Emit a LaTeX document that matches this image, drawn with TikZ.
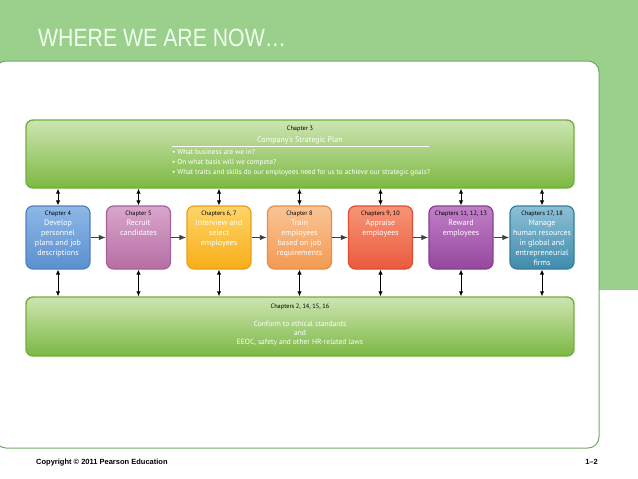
\documentclass[tikz,border=0pt]{standalone}
\usepackage{fontspec}
\setmainfont{PT Sans}
\newfontfamily\arialf{Liberation Sans}
\usetikzlibrary{arrows.meta}
\definecolor{hdrgreen}{HTML}{9BCF8C}
\definecolor{hdrline}{HTML}{6FAA66}
\definecolor{bigtop}{HTML}{CDE5B2}
\definecolor{bigbot}{HTML}{7CB842}
\definecolor{bigedge}{HTML}{72AE3C}
\definecolor{c1t}{HTML}{8DB8E6}\definecolor{c1b}{HTML}{5B8FCF}\definecolor{c1e}{HTML}{4F82C2}
\definecolor{c2t}{HTML}{D9A6CC}\definecolor{c2b}{HTML}{B56EA3}\definecolor{c2e}{HTML}{A9609A}
\definecolor{c3t}{HTML}{FFD46A}\definecolor{c3b}{HTML}{F7AE17}\definecolor{c3e}{HTML}{EBA111}
\definecolor{c4t}{HTML}{FAC496}\definecolor{c4b}{HTML}{F39A52}\definecolor{c4e}{HTML}{E88E46}
\definecolor{c5t}{HTML}{F79577}\definecolor{c5b}{HTML}{EB5A3C}\definecolor{c5e}{HTML}{DD4E32}
\definecolor{c6t}{HTML}{C07FC6}\definecolor{c6b}{HTML}{96479F}\definecolor{c6e}{HTML}{8A3E94}
\definecolor{c7t}{HTML}{8CC0D6}\definecolor{c7b}{HTML}{3F8BAB}\definecolor{c7e}{HTML}{367E9C}
\tikzset{
  bigbox/.style={draw=bigedge, line width=1.4pt, rounded corners=7pt, top color=bigtop, bottom color=bigbot, minimum width=548pt, minimum height=68pt, inner sep=0pt},
  chbox/.style={line width=1.2pt, rounded corners=7pt, minimum width=64pt, minimum height=63pt, inner sep=0pt},
  boxtext/.style={anchor=north, align=center, text=white, inner sep=0pt, font=\fontsize{8}{10}\selectfont},
  chap/.style={text=black, font=\fontsize{6.3}{8}\selectfont},
  dblarrow/.style={{Latex[length=5pt,width=4.5pt]}-{Latex[length=5pt,width=4.5pt]}, line width=1pt, black},
  flowarrow/.style={-{Latex[length=7pt,width=5.5pt]}, line width=1.1pt, black!75},
}
\begin{document}
\begin{tikzpicture}[x=1pt,y=-1pt]
\useasboundingbox (0,0) rectangle (638,479);
\clip (0,0) rectangle (638,479);
% frame
\fill[hdrgreen] (0,0) rectangle (638,290);
\filldraw[fill=white, draw=hdrline, line width=1pt, rounded corners=11pt] (-5,61) -- (599,61) -- (599,448) -- (-5,448) -- cycle;
\node[anchor=base west, text=white!94!green, font=\arialf\fontsize{25}{25}\selectfont, xscale=0.85, transform shape, inner sep=0pt] (title) at (38,46) {WHERE WE ARE NOW…};
% big boxes
\node[bigbox] (top) at (300,154) {};
\node[bigbox, minimum height=59pt] (bot) at (300,326.5) {};
\node[chap, anchor=center, inner sep=0pt] (top1) at (300,129) {Chapter 3};
\node[text=white, font=\fontsize{8}{10}\selectfont, anchor=center, inner sep=0pt] (top2) at (300,140) {Company’s Strategic Plan};
\coordinate (ulA) at (172,146.5);
\coordinate (ulB) at (429,146.5);
\draw[white, line width=0.6pt] (ulA) -- (ulB);
\node[anchor=north west, align=left, text=white, inner sep=0pt, font=\fontsize{7.2}{10}\selectfont] (bul) at (172,149) {• What business are we in?\\• On what basis will we compete?\\• What traits and skills do our employees need for us to achieve our strategic goals?};
\node[chap, anchor=center, inner sep=0pt] (bot1) at (300,307) {Chapters 2, 14, 15, 16};
\node[align=center, text=white, inner sep=0pt, anchor=north, font=\fontsize{7.5}{9}\selectfont] (bot2) at (300,321) {Conform to ethical standards\\and\\EEOC, safety and other HR-related laws};
% chapter boxes
\foreach \i/\x in {1/58,2/138.5,3/219,4/299.5,5/380.5,6/461,7/542}{
  \node[chbox, draw=c\i e, top color=c\i t, bottom color=c\i b] (b\i) at (\x,237.5) {};
}
\node[boxtext] (t1) at ([yshift=-5]b1.north) {{\fontsize{6.3}{8}\selectfont\color{black}Chapter 4}\\Develop\\personnel\\plans and job\\descriptions};
\node[boxtext] (t2) at ([yshift=-5]b2.north) {{\fontsize{6.3}{8}\selectfont\color{black}Chapter 5}\\Recruit\\candidates};
\node[boxtext] (t3) at ([yshift=-5]b3.north) {{\fontsize{6.3}{8}\selectfont\color{black}Chapters 6, 7}\\Interview and\\select\\employees};
\node[boxtext] (t4) at ([yshift=-5]b4.north) {{\fontsize{6.3}{8}\selectfont\color{black}Chapter 8}\\Train\\employees\\based on job\\requirements};
\node[boxtext] (t5) at ([yshift=-5]b5.north) {{\fontsize{6.3}{8}\selectfont\color{black}Chapters 9, 10}\\Appraise\\employees};
\node[boxtext] (t6) at ([yshift=-5]b6.north) {{\fontsize{6.3}{8}\selectfont\color{black}Chapters 11, 12, 13}\\Reward\\employees};
\node[boxtext] (t7) at ([yshift=-5]b7.north) {{\fontsize{6.3}{8}\selectfont\color{black}Chapters 17, 18}\\Manage\\human resources\\in global and\\entrepreneurial\\firms};
% arrows
\foreach \i in {1,...,7}{
  \draw[dblarrow] (b\i.north |- top.south) -- (b\i.north);
  \draw[dblarrow] (b\i.south) -- (b\i.south |- bot.north);
}
\foreach \i/\j in {1/2,2/3,3/4,4/5,5/6,6/7}{
  \draw[flowarrow] (b\i.east) -- (b\j.west);
}
% footer
\node[anchor=base west, inner sep=0pt, font=\arialf\bfseries\fontsize{7.5}{9}\selectfont] (copy) at (36,464) {Copyright © 2011 Pearson Education};
\node[anchor=base east, inner sep=0pt, font=\arialf\bfseries\fontsize{7.5}{9}\selectfont] (pg) at (598,464) {1–2};
\end{tikzpicture}
\end{document}
